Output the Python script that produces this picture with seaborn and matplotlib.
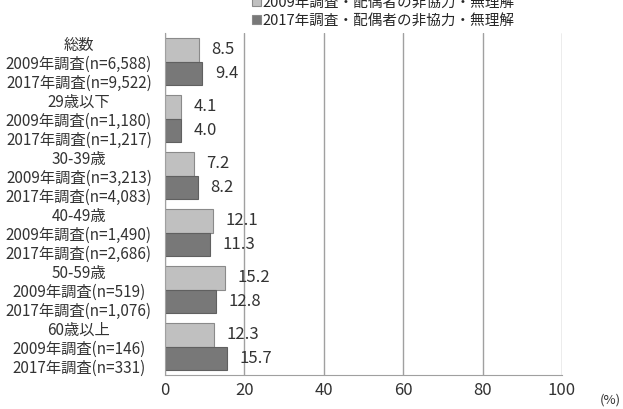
import matplotlib
matplotlib.use('Agg')
import matplotlib.pyplot as plt
import numpy as np
import pandas as pd
import seaborn as sns

# data
groups = ['総数', '29歳以下', '30-39歳', '40-49歳', '50-59歳', '60歳以上']
n_2009 = ['6,588', '1,180', '3,213', '1,490', '519', '146']
n_2017 = ['9,522', '1,217', '4,083', '2,686', '1,076', '331']
values_2009 = [8.5, 4.1, 7.2, 12.1, 15.2, 12.3]
values_2017 = [9.4, 4.0, 8.2, 11.3, 12.8, 15.7]
series = ['2009年調査・配偶者の非協力・無理解', '2017年調査・配偶者の非協力・無理解']
x_ticks = [0, 20, 40, 60, 80, 100]

labels = ['%s\n2009年調査(n=%s)\n2017年調査(n=%s)' % (g, a, b)
          for g, a, b in zip(groups, n_2009, n_2017)]
df = pd.DataFrame({
    'label': labels * 2,
    'value': values_2009 + values_2017,
    'series': [series[0]] * len(groups) + [series[1]] * len(groups),
})

sns.set_style('white')
plt.rcParams['font.family'] = ['Noto Sans CJK JP', 'DejaVu Sans']

fig = plt.figure(figsize=(6.23, 4.09), dpi=100)
ax = fig.add_axes([165 / 623, 1 - 375 / 409, 397 / 623, 342 / 409])

palette = ['#c0c0c0', '#787878']
sns.barplot(data=df, y='label', x='value', hue='series', orient='h',
            palette=palette, width=0.84, ax=ax, legend=True,
            edgecolor='#8a8a8a', linewidth=0.8)
for bar in ax.containers[1]:
    bar.set_edgecolor('#606060')

for cont in ax.containers:
    ax.bar_label(cont, fmt='%.1f', padding=9, fontsize=12, color='#333333')

ax.set_xlim(0, 100)
ax.set_xticks(x_ticks)
ax.set_xticklabels([str(t) for t in x_ticks], fontsize=12, color='#333333')
ax.set_xlabel('')
ax.set_ylabel('')
ax.tick_params(axis='x', length=0, pad=5)
ax.tick_params(axis='y', which='major', length=0, labelsize=11,
               labelcolor='#333333', pad=62)
for t in ax.get_yticklabels():
    t.set_horizontalalignment('center')
    t.set_linespacing(1.13)
ax.set_yticks(np.arange(len(groups) + 1) - 0.5, minor=True)
ax.tick_params(axis='y', which='minor', length=4, color='#999999', direction='out')
ax.set_ylim(len(groups) - 0.5, -0.5)

ax.grid(axis='x', color='#a0a0a0', linewidth=1)
ax.set_axisbelow(True)
for s in ['top', 'right']:
    ax.spines[s].set_visible(False)
for s in ['left', 'bottom']:
    ax.spines[s].set_color('#a0a0a0')

handles, lbls = ax.get_legend_handles_labels()
ax.legend(handles, lbls, loc='upper left', bbox_to_anchor=(246 / 623, 1.025),
          bbox_transform=fig.transFigure, frameon=False, fontsize=10.5,
          handlelength=0.6, handleheight=0.6, handletextpad=0.15,
          labelspacing=0.3, borderaxespad=0)

fig.text(621 / 623, 2 / 409, '(%)', fontsize=9.5, color='#333333',
         ha='right', va='bottom')

fig.savefig('out.png', dpi=100)
